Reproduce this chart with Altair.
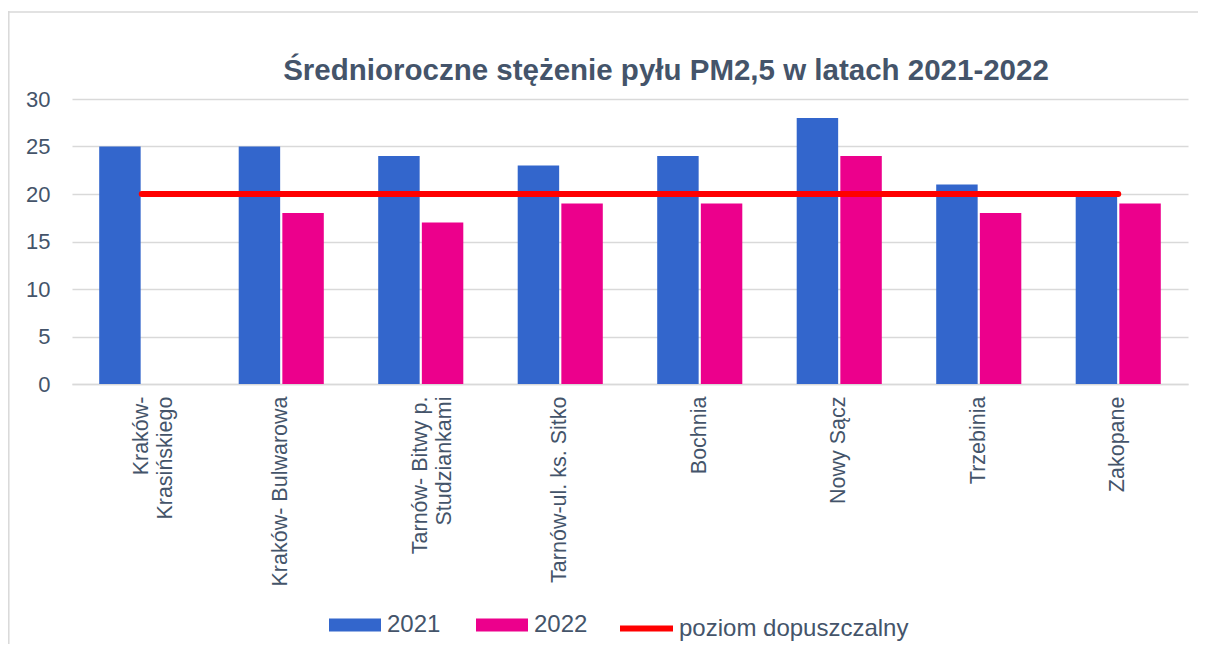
import json
import altair as alt
import pandas as pd

categories = ["Kraków-\nKrasińskiego", "Kraków- Bulwarowa", "Tarnów- Bitwy p.\nStudziankami",
              "Tarnów-ul. ks. Sitko", "Bochnia", "Nowy Sącz", "Trzebinia", "Zakopane"]
values_2021 = [25, 25, 24, 23, 24, 28, 21, 20]
values_2022 = [None, 18, 17, 19, 19, 24, 18, 19]
limit_values = [20, 20, 20, 20, 20, 20, 20, 20]
bar_series = ["2021", "2022"]
bar_colors = ["#3366CC", "#EC008C"]
limit_name = "poziom dopuszczalny"
limit_color = "#FF0000"
y_ticks = [0, 5, 10, 15, 20, 25, 30]
title_text = "Średnioroczne stężenie pyłu PM2,5 w latach 2021-2022"

rows = []
for c, a, b in zip(categories, values_2021, values_2022):
    if a is not None:
        rows.append({"cat": c, "series": "2021", "value": a})
    if b is not None:
        rows.append({"cat": c, "series": "2022", "value": b})
bars_df = pd.DataFrame(rows)
limit_df = pd.DataFrame({"cat": categories, "series": limit_name, "value": limit_values})
frame_df = pd.DataFrame({"k": [0]})

# multi-line labels, the shorter line padded so the lines look centred on each other
NB = "\u00a0"
label_lines = []
for c in categories:
    parts = c.split("\n")
    if len(parts) == 2:
        longest = max(len(p) for p in parts)
        parts = [p + NB * 3 if len(p) < longest else p for p in parts]
    label_lines.append(parts)
label_expr = "{0}[indexof({1}, datum.value)]".format(
    json.dumps(label_lines, ensure_ascii=False), json.dumps(categories, ensure_ascii=False))

FONT = "Liberation Sans"
TXT = "#44546A"
GRID = "#D9D9D9"

x_enc = alt.X(
    "cat:N", sort=categories,
    scale=alt.Scale(paddingInner=0.39, paddingOuter=0.195, round=False),
    axis=alt.Axis(title=None, labelAngle=-90, labelExpr=label_expr,
                  labelFontSize=21.5, labelColor=TXT, labelFont=FONT, labelLimit=400,
                  labelLineHeight=24, labelPadding=12, ticks=False, domain=True,
                  domainColor=GRID, domainWidth=1.5, grid=False, labelAlign="right",
                  labelBaseline="middle"),
)
y_enc = alt.Y(
    "value:Q",
    scale=alt.Scale(domain=[0, 30], nice=False),
    axis=alt.Axis(title=None, values=y_ticks, domain=False, ticks=False, labelFontSize=22,
                  labelColor=TXT, labelFont=FONT, labelPadding=22, gridColor=GRID, gridWidth=1.5),
)

bar_legend = alt.Legend(
    title=None, orient="none", legendX=257, legendY=500, direction="horizontal", columns=2,
    symbolSize=2704, symbolType="M-1,-0.25H1V0.25H-1Z", labelFontSize=24, labelColor=TXT,
    labelFont=FONT, columnPadding=35, labelOffset=6, symbolStrokeWidth=0, symbolOpacity=1,
    labelLimit=400,
)
line_legend = alt.Legend(
    title=None, orient="none", legendX=545, legendY=500, direction="horizontal",
    symbolSize=2809, symbolType="M-1,0H1", symbolStrokeWidth=6, labelFontSize=24,
    labelColor=TXT, labelFont=FONT, labelOffset=3, symbolOpacity=1, labelLimit=400,
)

bars = alt.Chart(bars_df).mark_bar().encode(
    x=x_enc,
    xOffset=alt.XOffset("series:N", scale=alt.Scale(domain=bar_series, paddingInner=0.05, paddingOuter=0)),
    y=y_enc,
    color=alt.Color("series:N", scale=alt.Scale(domain=bar_series, range=bar_colors), legend=bar_legend),
)

line = alt.Chart(limit_df).mark_line(strokeWidth=6, strokeCap="round").encode(
    x=alt.X("cat:N", sort=categories),
    y=alt.Y("value:Q"),
    stroke=alt.Stroke("series:N", scale=alt.Scale(domain=[limit_name], range=[limit_color]), legend=line_legend),
)

# outer chart border: only its top and left edges fall inside the picture
frame_top = alt.Chart(frame_df).mark_rule(stroke=GRID, strokeWidth=1.5).encode(
    x=alt.value(-64), x2=alt.value(1126), y=alt.value(-87)
)
frame_left = alt.Chart(frame_df).mark_rule(stroke=GRID, strokeWidth=1.5).encode(
    x=alt.value(-63.2), y=alt.value(-88), y2=alt.value(545)
)

chart = alt.layer(bars, line, frame_top, frame_left).properties(
    width=1116, height=285,
    title=alt.TitleParams(title_text, fontSize=29.5, fontWeight="bold", color=TXT, font=FONT,
                          anchor="middle", frame="group", dx=36, offset=-99, baseline="alphabetic"),
    autosize=alt.AutoSizeParams(type="none"),
    padding={"left": 64, "top": 91, "right": 10, "bottom": 262},
).configure_view(stroke=None)

chart.save("out.html", embed_options={"renderer": "svg", "actions": False})
